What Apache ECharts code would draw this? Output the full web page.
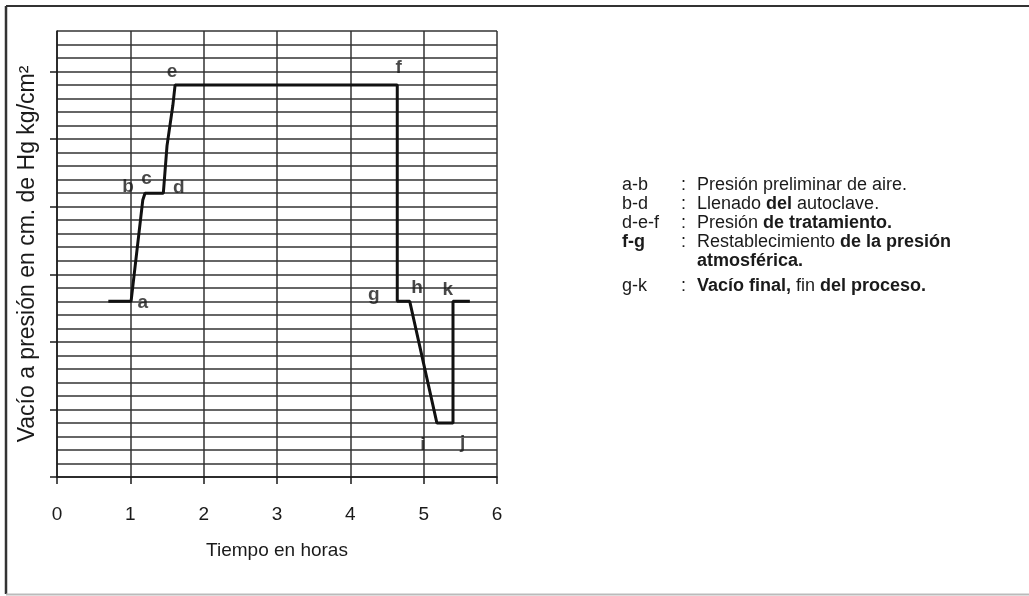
<!DOCTYPE html>
<html>
<head>
<meta charset="utf-8">
<script src="https://cdn.jsdelivr.net/npm/echarts@6/dist/echarts.min.js"></script>
<style>
html,body{margin:0;padding:0;background:#fff;}
#chart{width:1029px;height:596px;}
</style>
</head>
<body>
<div id="chart"></div>
<script>
// ---- data ----
var timeHours = [0.70, 1.01, 1.17, 1.20, 1.45, 1.50, 1.58, 1.61, 4.64, 4.64, 4.81, 5.18, 5.40, 5.40, 5.63];
var pressure  = [26,   26,   41,   42,   42,   49,   55,   58,   58,   26,   26,   8,    8,    26,   26];
var xTicks = [0, 1, 2, 3, 4, 5, 6];
var majorYTicks = [0, 10, 20, 30, 40, 50, 60];
var pointNames = ['a', 'b', 'c', 'd', 'e', 'f', 'g', 'h', 'k', 'i', 'j'];
var pointX     = [1.17, 0.97, 1.22, 1.66, 1.57, 4.66, 4.32, 4.91, 5.33, 4.99, 5.53];
var pointY     = [25.8, 43.0, 44.2, 42.8, 59.9, 60.6, 26.9, 28.0, 27.7, 4.8, 5.0];
var legendKeys = ['a-b', 'b-d', 'd-e-f', 'f-g', '', 'g-k'];
var legendTexts = [
  'Presión preliminar de aire.',
  'Llenado {b|del} autoclave.',
  'Presión {b|de tratamiento.}',
  'Restablecimiento {b|de la presión}',
  '{b|atmosférica.}',
  '{b|Vacío final,} fin {b|del proceso.}'
];
var xTitle = 'Tiempo en horas';
var yTitle = 'Vacío a presión en cm. de Hg kg/cm²';

// ---- build ----
var lineData = timeHours.map(function (t, i) { return [t, pressure[i]]; });
var labelData = pointNames.map(function (n, i) { return { name: n, value: [pointX[i], pointY[i]] }; });

var FONT = 'Liberation Sans, Arial, sans-serif';
var INK = '#1a1a1a';

var legendTop = 176, legendStep = 19;
var legendGraphics = [];
legendTexts.forEach(function (txt, i) {
  var y = legendTop + i * legendStep + (i === 5 ? 6 : 0);
  if (legendKeys[i]) {
    legendGraphics.push({ type: 'text', left: 622, top: y,
      style: { text: legendKeys[i], font: (i === 3 ? 'bold ' : '') + '18px ' + FONT, fill: INK } });
    legendGraphics.push({ type: 'text', left: 681, top: y,
      style: { text: ':', font: '18px ' + FONT, fill: INK } });
  }
  legendGraphics.push({ type: 'text', left: 697, top: y,
    style: { text: txt, font: '18px ' + FONT, fill: INK,
      rich: { b: { fontWeight: 'bold', fontSize: 18, fontFamily: FONT, fill: INK } } } });
});

var chart = echarts.init(document.getElementById('chart'), null, { renderer: 'canvas' });
chart.setOption({
  animation: false,
  backgroundColor: '#fff',
  grid: { left: 57, right: 532, top: 31, bottom: 119, containLabel: false },
  xAxis: {
    type: 'value', min: 0, max: 6, interval: 1,
    axisLine: { show: true, lineStyle: { color: INK, width: 1.5 } },
    axisTick: { show: true, length: 7, lineStyle: { color: INK, width: 1.5 } },
    axisLabel: { show: true, fontSize: 19, fontFamily: FONT, color: INK, margin: 28,
      formatter: function (v) { return xTicks.indexOf(v) >= 0 ? String(v) : ''; } },
    splitLine: { show: true, lineStyle: { color: '#333', width: 1.5 } },
    name: xTitle, nameLocation: 'middle', nameGap: 64,
    nameTextStyle: { fontSize: 19, fontFamily: FONT, color: INK }
  },
  yAxis: [{
    type: 'value', min: 0, max: 66, interval: 2,
    axisLine: { show: true, lineStyle: { color: INK, width: 1.5 } },
    axisTick: { show: false }, axisLabel: { show: false },
    splitLine: { show: true, lineStyle: { color: '#333', width: 1.5 } }
  }, {
    type: 'value', min: 0, max: 66, interval: 10, position: 'left',
    axisLine: { show: false },
    axisTick: { show: true, length: 7, customValues: majorYTicks, lineStyle: { color: INK, width: 1.5 } },
    axisLabel: { show: false },
    splitLine: { show: false },
    name: yTitle, nameLocation: 'middle', nameGap: 18, nameRotate: 90,
    nameTextStyle: { fontSize: 23, fontFamily: FONT, color: INK }
  }],
  graphic: [
    { type: 'line', shape: { x1: 6, y1: 6, x2: 1029, y2: 6 }, style: { stroke: '#333', lineWidth: 2 } },
    { type: 'line', shape: { x1: 6, y1: 6, x2: 6, y2: 594 }, style: { stroke: '#333', lineWidth: 2.5 } },
    { type: 'line', shape: { x1: 6, y1: 594.5, x2: 1029, y2: 594.5 }, style: { stroke: '#bbb', lineWidth: 2 } }
  ].concat(legendGraphics),
  series: [{
    type: 'line', data: lineData, yAxisIndex: 0, symbol: 'none',
    lineStyle: { color: '#111', width: 3 }, z: 5
  }, {
    type: 'scatter', data: labelData, yAxisIndex: 0, symbolSize: 1,
    itemStyle: { color: 'rgba(0,0,0,0)' },
    label: { show: true, position: 'inside', formatter: '{b}', fontSize: 19, fontWeight: 'bold',
      fontFamily: FONT, color: INK }, z: 6
  }]
});
</script>
</body>
</html>
